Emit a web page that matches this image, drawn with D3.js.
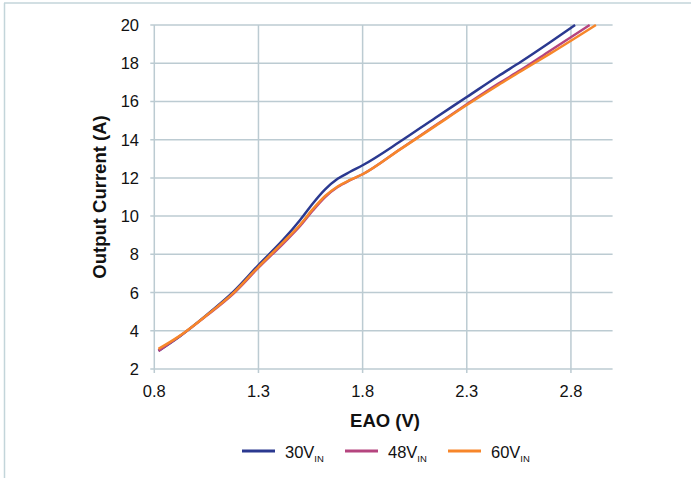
<!DOCTYPE html>
<html>
<head>
<meta charset="utf-8">
<script src="https://cdn.jsdelivr.net/npm/d3@7/dist/d3.min.js"></script>
<style>
  body { margin: 0; background: #fff; }
  svg { display: block; font-family: "Liberation Sans", Arial, sans-serif; }
</style>
</head>
<body>
<div id="chart"></div>
<script>
// Tick values
const xTicks = [0.8, 1.3, 1.8, 2.3, 2.8];
const yTicks = [2, 4, 6, 8, 10, 12, 14, 16, 18, 20];

// 30V input
const eao30 = [0.82, 0.92, 1.05, 1.18, 1.30, 1.42, 1.50, 1.56, 1.62, 1.68, 1.74, 1.80, 1.98, 2.15, 2.30, 2.45, 2.56, 2.70, 2.82];
const amps30 = [2.95, 3.69, 4.82, 6.05, 7.44, 8.78, 9.80, 10.65, 11.40, 11.95, 12.32, 12.66, 13.90, 15.15, 16.23, 17.32, 18.08, 19.10, 20.0];

// 48V input
const eao48 = [0.82, 0.92, 1.05, 1.18, 1.30, 1.42, 1.50, 1.56, 1.62, 1.68, 1.74, 1.80, 1.98, 2.15, 2.30, 2.45, 2.56, 2.70, 2.89];
const amps48 = [2.95, 3.70, 4.78, 5.95, 7.30, 8.58, 9.48, 10.28, 11.00, 11.52, 11.88, 12.19, 13.50, 14.75, 15.85, 16.92, 17.65, 18.65, 20.0];

// 60V input
const eao60 = [0.82, 0.92, 1.05, 1.18, 1.30, 1.42, 1.50, 1.56, 1.62, 1.68, 1.74, 1.80, 1.98, 2.15, 2.30, 2.45, 2.56, 2.70, 2.92];
const amps60 = [3.05, 3.72, 4.80, 5.98, 7.35, 8.65, 9.55, 10.35, 11.05, 11.55, 11.89, 12.19, 13.49, 14.72, 15.81, 16.85, 17.58, 18.50, 20.0];

const seriesNames = ['30V', '48V', '60V'];
const seriesColors = ['#2b3990', '#b5457f', '#f7862a'];

const width = 691, height = 478;
const svg = d3.select('#chart').append('svg')
  .attr('width', width)
  .attr('height', height);

// outer frame (top + left)
svg.append('line').attr('x1', 4).attr('x2', width).attr('y1', 3).attr('y2', 3)
  .attr('stroke', '#c3d5da').attr('stroke-width', 1.5);
svg.append('line').attr('x1', 4.5).attr('x2', 4.5).attr('y1', 3).attr('y2', height)
  .attr('stroke', '#c3d5da').attr('stroke-width', 1.5);

const x = d3.scaleLinear().domain([0.8, 3.0]).range([154.3, 612.6]);
const y = d3.scaleLinear().domain([2, 20]).range([369, 25]);

const gridColor = '#bccbd2';

// horizontal grid
svg.append('g').selectAll('line').data(yTicks).join('line')
  .attr('x1', x(0.8) - 4).attr('x2', x(3.0))
  .attr('y1', d => y(d)).attr('y2', d => y(d))
  .attr('stroke', gridColor).attr('stroke-width', 1.5);

// vertical grid
svg.append('g').selectAll('line').data(xTicks).join('line')
  .attr('x1', d => x(d)).attr('x2', d => x(d))
  .attr('y1', y(20)).attr('y2', y(2) + 4)
  .attr('stroke', gridColor).attr('stroke-width', 1.5);

// tick labels
svg.append('g').selectAll('text').data(yTicks).join('text')
  .attr('x', 139).attr('y', d => y(d) + 6)
  .attr('text-anchor', 'end')
  .attr('font-size', '16.5px').attr('fill', '#111')
  .text(d => d);

svg.append('g').selectAll('text').data(xTicks).join('text')
  .attr('x', d => x(d)).attr('y', 397)
  .attr('text-anchor', 'middle')
  .attr('font-size', '16.5px').attr('fill', '#111')
  .text(d => d.toFixed(1));

// axis titles
svg.append('text')
  .attr('x', 385).attr('y', 427)
  .attr('text-anchor', 'middle')
  .attr('font-size', '18.5px').attr('font-weight', 'bold').attr('fill', '#111')
  .text('EAO (V)');

svg.append('text')
  .attr('transform', 'translate(106,197) rotate(-90)')
  .attr('text-anchor', 'middle')
  .attr('font-size', '18.5px').attr('font-weight', 'bold').attr('fill', '#111')
  .text('Output Current (A)');

// curves
const line = d3.line()
  .x(d => x(d[0]))
  .y(d => y(d[1]))
  .curve(d3.curveMonotoneX);

const seriesData = [
  d3.zip(eao30, amps30),
  d3.zip(eao48, amps48),
  d3.zip(eao60, amps60)
];

svg.append('g').selectAll('path').data(seriesData).join('path')
  .attr('d', line)
  .attr('fill', 'none')
  .attr('stroke', (d, i) => seriesColors[i])
  .attr('stroke-width', 2.5)
  .attr('stroke-linejoin', 'round');

// legend
const legend = svg.append('g').attr('transform', 'translate(242,451)');
seriesNames.forEach((name, i) => {
  const g = legend.append('g').attr('transform', `translate(${i * 103},0)`);
  g.append('line')
    .attr('x1', 0).attr('x2', 33).attr('y1', 0).attr('y2', 0)
    .attr('stroke', seriesColors[i]).attr('stroke-width', 3);
  const t = g.append('text')
    .attr('x', 43).attr('y', 6.5)
    .attr('font-size', '16.5px').attr('fill', '#111');
  t.append('tspan').text(name);
  t.append('tspan').attr('dy', 4.5).attr('font-size', '9.5px').text('IN');
});
</script>
</body>
</html>
